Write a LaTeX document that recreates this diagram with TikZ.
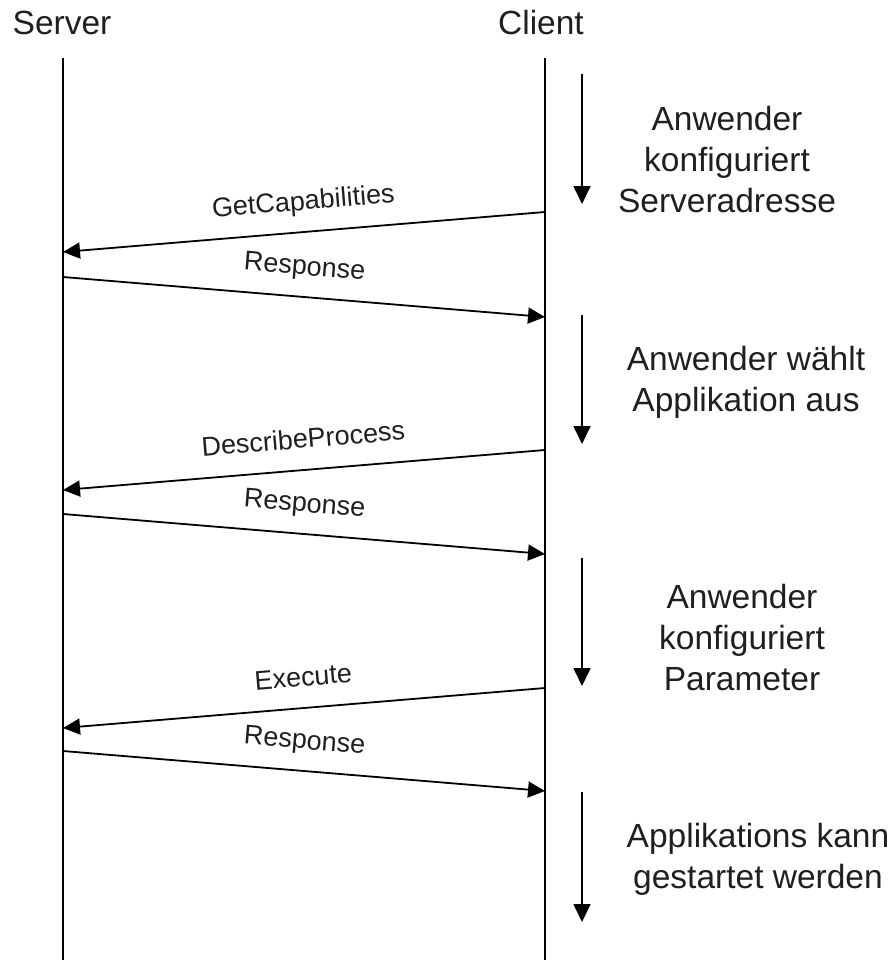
\documentclass[tikz,border=0pt]{standalone}
\usepackage{fontspec}
\setmainfont{Liberation Sans}
\usetikzlibrary{arrows.meta}

% one column of centred lines whose baseline is that of the first line
\newcommand{\stacklines}[1]{\begin{tabular}[t]{@{}c@{}}#1\end{tabular}}

\begin{document}
\begin{tikzpicture}[x=1pt,y=-1pt,
  lifeline/.style={line width=2pt},
  msg/.style={line width=1.8pt, -{Triangle[length=17pt,width=16pt]}},
  flowarrow/.style={line width=1.8pt, -{Triangle[length=18pt,width=17pt]}},
  actor/.style={font=\fontsize{33.5}{41}\selectfont, text=black!88, anchor=base, inner sep=0pt},
  note/.style={font=\fontsize{33.5}{41}\selectfont, text=black!88, anchor=base, inner sep=0pt},
  lbl/.style={font=\fontsize{27}{32}\selectfont, text=black!88, anchor=base, inner sep=0pt, yshift=22pt}]

\useasboundingbox (0,0) rectangle (895,960);

% actors and lifelines
\node[actor] (server) at (62,35) {Server};
\node[actor] (client) at (541,35) {Client};
\coordinate (sTop) at (63,58);
\coordinate (sBot) at (63,962);
\coordinate (cTop) at (545,58);
\coordinate (cBot) at (545,962);
\draw[lifeline] (sTop) -- (sBot);
\draw[lifeline] (cTop) -- (cBot);

% message end points on the lifelines
\coordinate (c1) at (545,212); \coordinate (s1) at (63,252);
\coordinate (s1r) at (63,277); \coordinate (c1r) at (545,317);
\coordinate (c2) at (545,450); \coordinate (s2) at (63,490);
\coordinate (s2r) at (63,514); \coordinate (c2r) at (545,554);
\coordinate (c3) at (545,688); \coordinate (s3) at (63,728);
\coordinate (s3r) at (63,751); \coordinate (c3r) at (545,791);

% requests and responses
\draw[msg] (c1) -- node[lbl, rotate=4.74] (m1) {GetCapabilities} (s1);
\draw[msg] (s1r) -- node[lbl, rotate=-4.74] (r1) {Response} (c1r);
\draw[msg] (c2) -- node[lbl, rotate=4.74] (m2) {DescribeProcess} (s2);
\draw[msg] (s2r) -- node[lbl, rotate=-4.74] (r2) {Response} (c2r);
\draw[msg] (c3) -- node[lbl, rotate=4.74] (m3) {Execute} (s3);
\draw[msg] (s3r) -- node[lbl, rotate=-4.74] (r3) {Response} (c3r);

% user steps on the client side
\coordinate (f1a) at (582,74);  \coordinate (f1b) at (582,204);
\coordinate (f2a) at (582,315); \coordinate (f2b) at (582,444);
\coordinate (f3a) at (582,558); \coordinate (f3b) at (582,686);
\coordinate (f4a) at (582,792); \coordinate (f4b) at (582,922);
\draw[flowarrow] (f1a) -- (f1b);
\draw[flowarrow] (f2a) -- (f2b);
\draw[flowarrow] (f3a) -- (f3b);
\draw[flowarrow] (f4a) -- (f4b);

\node[note] (n1) at (727,131) {\stacklines{Anwender\\konfiguriert\\Serveradresse}};
\node[note] (n2) at (746,370) {\stacklines{Anwender wählt\\Applikation aus}};
\node[note] (n3) at (742,608) {\stacklines{Anwender\\konfiguriert\\Parameter}};
\node[note] (n4) at (758,847) {\stacklines{Applikations kann\\gestartet werden}};
\end{tikzpicture}
\end{document}
